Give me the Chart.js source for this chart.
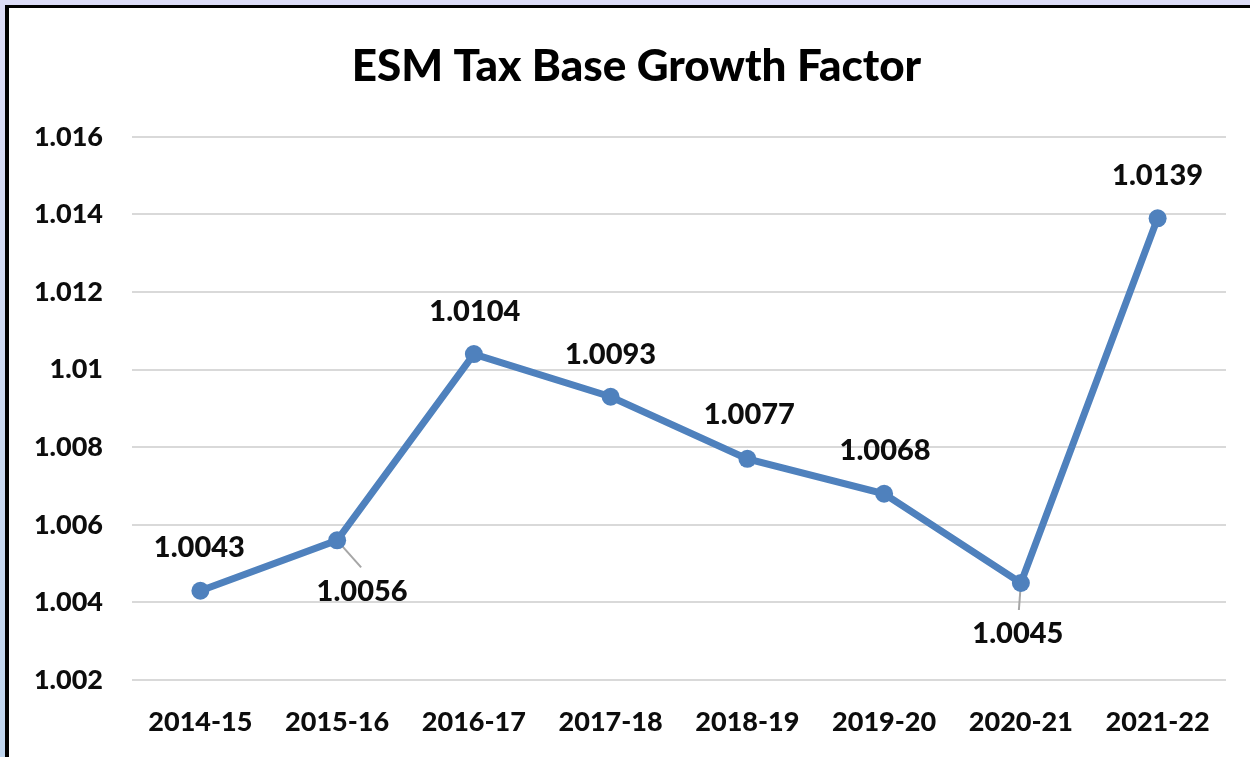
<!DOCTYPE html>
<html>
<head>
<meta charset="utf-8">
<script src="https://cdn.jsdelivr.net/npm/chart.js@4"></script>
<style>
  html, body { margin: 0; padding: 0; width: 1250px; height: 757px; overflow: hidden;
    background: linear-gradient(to bottom, #dcdcf7 0%, #c9d8f0 60%, #bfd5ee 100%); }
  #frame { position: absolute; left: 5px; top: 5px; width: 1241px; height: 749px;
    border-left: 4px solid #000; border-top: 3px solid #000; background: #fff; }
  canvas { display: block; }
</style>
</head>
<body>
<div id="frame"><canvas id="c" width="1241" height="749"></canvas></div>
<script>
const categories = ['2014-15', '2015-16', '2016-17', '2017-18', '2018-19', '2019-20', '2020-21', '2021-22'];
const growthFactor = [1.0043, 1.0056, 1.0104, 1.0093, 1.0077, 1.0068, 1.0045, 1.0139];
const yTicks = [1.002, 1.004, 1.006, 1.008, 1.01, 1.012, 1.014, 1.016];
const chartTitle = 'ESM Tax Base Growth Factor';

// label placement relative to each point (style only)
const labelOffsets = [[-1, -43], [25, 51], [1, -42], [0, -42], [2, -44], [1, -43], [-3, 51], [0, -43]];
const leaderEnds = [null, [24, 27], null, null, null, null, [-2, 27], null];

const FONT = 'Lato, "Open Sans", sans-serif';

const labelPlugin = {
  id: 'pointLabels',
  afterLayout(chart) {
    const t = chart.titleBlock;
    if (t) { t.left += 11; t.right += 11; }
  },
  beforeDatasetsDraw(chart) {
    const ctx = chart.ctx;
    const meta = chart.getDatasetMeta(0);
    ctx.save();
    ctx.strokeStyle = '#a6a6a6';
    ctx.lineWidth = 2;
    meta.data.forEach((pt, i) => {
      const e = leaderEnds[i];
      if (!e) return;
      ctx.beginPath();
      ctx.moveTo(pt.x, pt.y);
      ctx.lineTo(pt.x + e[0], pt.y + e[1]);
      ctx.stroke();
    });
    ctx.restore();
  },
  afterDatasetsDraw(chart) {
    const ctx = chart.ctx;
    const meta = chart.getDatasetMeta(0);
    ctx.save();
    ctx.font = '900 29px ' + FONT;
    ctx.fillStyle = '#0d0d0d';
    ctx.textAlign = 'center';
    ctx.textBaseline = 'middle';
    meta.data.forEach((pt, i) => {
      const o = labelOffsets[i];
      ctx.fillText(growthFactor[i].toFixed(4), pt.x + o[0], pt.y + o[1]);
    });
    ctx.restore();
  }
};

new Chart(document.getElementById('c'), {
  type: 'line',
  data: {
    labels: categories,
    datasets: [{
      data: growthFactor,
      borderColor: '#4F81BD',
      backgroundColor: '#4F81BD',
      borderWidth: 7,
      pointRadius: 9,
      pointHoverRadius: 9,
      pointBorderWidth: 0,
      tension: 0,
      fill: false
    }]
  },
  options: {
    responsive: false,
    animation: false,
    events: [],
    layout: { padding: { left: 16, right: 24, top: 0, bottom: 0 } },
    plugins: {
      legend: { display: false },
      tooltip: { enabled: false },
      title: {
        display: true,
        text: chartTitle,
        color: '#000',
        font: { family: FONT, size: 44, weight: '900', lineHeight: 1.2 },
        padding: { top: 32, bottom: 44 }
      }
    },
    scales: {
      x: {
        offset: true,
        grid: { display: false, drawTicks: false },
        border: { display: false },
        ticks: { color: '#0d0d0d', padding: 26, font: { family: FONT, size: 27, weight: '900' }, maxRotation: 0 },
        afterFit(s) { s.height = 77; }
      },
      y: {
        min: yTicks[0],
        max: yTicks[yTicks.length - 1],
        afterBuildTicks(s) { s.ticks = yTicks.map(v => ({ value: v })); },
        grid: { color: '#d9d9d9', lineWidth: 2, drawTicks: false },
        border: { display: false },
        ticks: {
          color: '#0d0d0d', padding: 29,
          font: { family: FONT, size: 27, weight: '900' },
          callback: v => String(parseFloat(Number(v).toFixed(3)))
        },
        afterFit(s) { s.width = 107; }
      }
    }
  },
  plugins: [labelPlugin]
});
</script>
</body>
</html>
